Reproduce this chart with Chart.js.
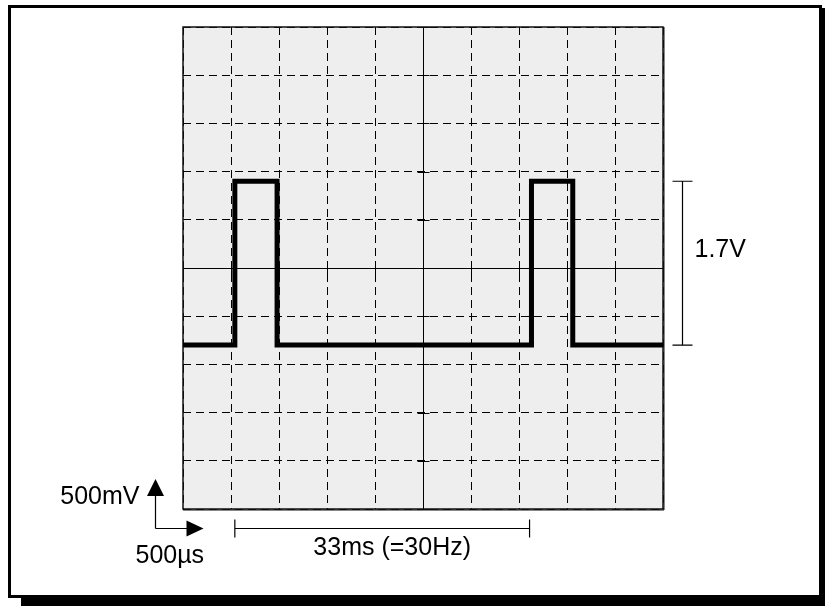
<!DOCTYPE html>
<html>
<head>
<meta charset="utf-8">
<script src="https://cdn.jsdelivr.net/npm/chart.js@4.4.0/dist/chart.umd.min.js"></script>
<style>
  html, body { margin: 0; padding: 0; background: #fff; }
  canvas { display: block; }
</style>
</head>
<body>
<canvas id="scope" width="825" height="606"></canvas>
<script>
// trace in scope units: time in ms (500us/div), voltage in V (500mV/div)
const traceTime = [0, 0.54, 0.54, 0.98, 0.98, 3.63, 3.63, 4.06, 4.06, 5.0];
const traceVolts = [-0.8, -0.8, 0.9, 0.9, -0.8, -0.8, 0.9, 0.9, -0.8, -0.8];

const timeRange = [0, 5];      // 10 divisions
const voltRange = [-2.5, 2.5]; // 10 divisions
const timePerDiv = 0.5;
const voltPerDiv = 0.5;

const voltLabel = '500mV';
const timeLabel = '500µs';
const ampLabel = '1.7V';
const periodLabel = '33ms (=30Hz)';
const ampMarks = [-0.8, 0.9];     // bracket on the right
const periodMarks = [0.54, 3.61]; // bar under the screen

const FONT = '25px "Liberation Sans", Arial, sans-serif';
const xMid = (timeRange[0] + timeRange[1]) / 2;
const yMid = (voltRange[0] + voltRange[1]) / 2;

function arrowHead(c, tipX, tipY, dir) {
    c.beginPath();
    if (dir === 'up') {
        c.moveTo(tipX, tipY);
        c.lineTo(tipX - 8.5, tipY + 17);
        c.lineTo(tipX + 8.5, tipY + 17);
    } else {
        c.moveTo(tipX, tipY);
        c.lineTo(tipX - 17, tipY - 8);
        c.lineTo(tipX - 17, tipY + 8);
    }
    c.closePath();
    c.fill();
}

const scopeDecor = {
    id: 'scopeDecor',
    beforeDraw(chart) {
        const c = chart.ctx, a = chart.chartArea;
        c.save();
        c.fillStyle = '#fff';
        c.fillRect(0, 0, chart.width, chart.height);
        // frame with drop shadow
        c.fillStyle = '#000';
        c.fillRect(21, 8, 804, 598);
        c.fillStyle = '#fff';
        c.fillRect(8, 5, 814, 593);
        c.lineWidth = 3;
        c.strokeStyle = '#000';
        c.strokeRect(9.5, 6.5, 811, 590);
        // screen
        c.fillStyle = '#eeeeee';
        c.fillRect(a.left, a.top, a.width, a.height);
        c.restore();
    },
    beforeDatasetsDraw(chart) {
        const c = chart.ctx, a = chart.chartArea;
        const xs = chart.scales.x, ys = chart.scales.y;
        c.save();
        c.strokeStyle = '#000';
        c.lineWidth = 1;
        const cx = Math.round(xs.getPixelForValue(xMid)) + 0.5;
        const cy = Math.round(ys.getPixelForValue(yMid)) + 0.5;
        c.beginPath();
        for (let t = timeRange[0]; t <= timeRange[1] + 1e-9; t += timePerDiv) {
            const px = Math.round(xs.getPixelForValue(t)) + 0.5;
            c.moveTo(px, cy - 6);
            c.lineTo(px, cy + 6);
        }
        for (let v = voltRange[0]; v <= voltRange[1] + 1e-9; v += voltPerDiv) {
            const py = Math.round(ys.getPixelForValue(v)) + 0.5;
            c.moveTo(cx - 6, py);
            c.lineTo(cx + 6, py);
        }
        c.stroke();
        // screen border
        c.strokeStyle = '#111';
        c.lineWidth = 1.5;
        c.strokeRect(a.left, a.top, a.width, a.height);
        c.lineWidth = 1;
        c.beginPath();
        c.moveTo(a.left, a.bottom + 1);
        c.lineTo(a.right + 1, a.bottom + 1);
        c.lineTo(a.right + 1, a.top);
        c.stroke();
        c.restore();
    },
    afterDraw(chart) {
        const c = chart.ctx, a = chart.chartArea;
        const xs = chart.scales.x, ys = chart.scales.y;
        c.save();
        c.strokeStyle = '#000';
        c.fillStyle = '#000';
        c.lineWidth = 1.2;
        c.font = FONT;

        // amplitude bracket
        const bx = Math.round(xs.getPixelForValue(timeRange[1] + 0.2)) + 0.5;
        const yTop = ys.getPixelForValue(ampMarks[1]);
        const yBot = ys.getPixelForValue(ampMarks[0]);
        c.beginPath();
        c.moveTo(bx, yTop); c.lineTo(bx, yBot);
        c.moveTo(bx - 10, yTop); c.lineTo(bx + 10, yTop);
        c.moveTo(bx - 10, yBot); c.lineTo(bx + 10, yBot);
        c.stroke();
        c.textAlign = 'left';
        c.textBaseline = 'alphabetic';
        c.fillText(ampLabel, bx + 12, (yTop + yBot) / 2 - 6);

        // period bar
        const py = Math.round(a.bottom + 19) + 0.5;
        const p0 = xs.getPixelForValue(periodMarks[0]);
        const p1 = xs.getPixelForValue(periodMarks[1]);
        c.beginPath();
        c.moveTo(p0, py); c.lineTo(p1, py);
        c.moveTo(p0, py - 9); c.lineTo(p0, py + 9);
        c.moveTo(p1, py - 9); c.lineTo(p1, py + 9);
        c.stroke();
        c.textAlign = 'center';
        c.fillText(periodLabel, (p0 + p1) / 2 + 10, py + 26);

        // scale arrows
        const ox = Math.round(a.left - 28) + 0.5;
        c.beginPath();
        c.moveTo(ox, py); c.lineTo(ox, a.bottom - 14);
        c.moveTo(ox, py); c.lineTo(ox + 32, py);
        c.stroke();
        arrowHead(c, ox, a.bottom - 30, 'up');
        arrowHead(c, ox + 48, py, 'right');
        c.textAlign = 'right';
        c.fillText(voltLabel, ox - 16, a.bottom - 5);
        c.textAlign = 'left';
        c.fillText(timeLabel, ox - 20, py + 34);
        c.restore();
    }
};

function gridDash(centre) {
    return ctx => (ctx.tick && Math.abs(ctx.tick.value - centre) < 1e-6) ? [] : [8, 5];
}

const ctx = document.getElementById('scope').getContext('2d');
const scope = new Chart(ctx, {
    type: 'line',
    data: {
        datasets: [{
            label: 'trace',
            data: traceTime.map((t, i) => ({ x: t, y: traceVolts[i] })),
            borderColor: '#000',
            borderWidth: 5,
            borderCapStyle: 'butt',
            borderJoinStyle: 'miter',
            pointRadius: 0,
            tension: 0,
            fill: false,
            clip: false
        }]
    },
    options: {
        responsive: false,
        animation: false,
        events: [],
        layout: {
            padding: { left: 183, top: 27, right: 162, bottom: 97 }
        },
        scales: {
            x: {
                type: 'linear',
                min: timeRange[0],
                max: timeRange[1],
                ticks: { display: false, stepSize: timePerDiv },
                grid: { drawTicks: false, lineWidth: 1, color: '#000' },
                border: { display: false, dash: gridDash(xMid) }
            },
            y: {
                type: 'linear',
                min: voltRange[0],
                max: voltRange[1],
                ticks: { display: false, stepSize: voltPerDiv },
                grid: { drawTicks: false, lineWidth: 1, color: '#000' },
                border: { display: false, dash: gridDash(yMid) }
            }
        },
        plugins: {
            legend: { display: false },
            tooltip: { enabled: false }
        }
    },
    plugins: [scopeDecor]
});
</script>
</body>
</html>
